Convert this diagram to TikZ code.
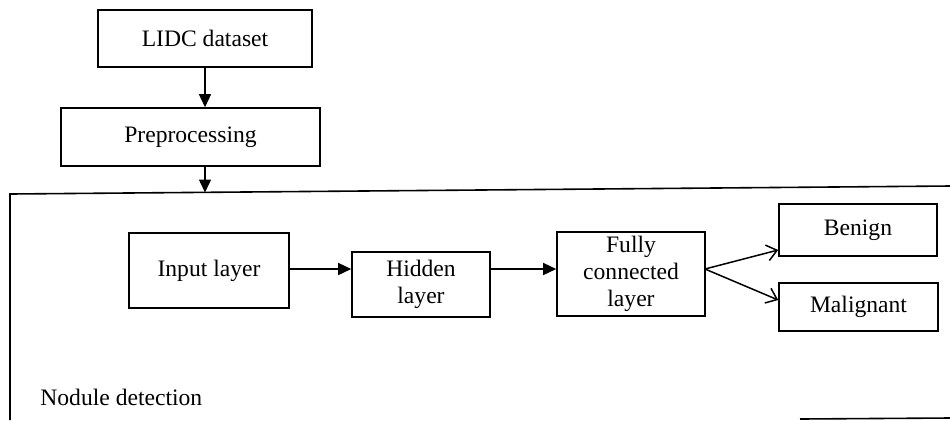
\documentclass[tikz,border=0pt]{standalone}
\usepackage{fontspec}
\setmainfont{Liberation Serif}
\usepackage{tikz}
\usetikzlibrary{arrows.meta}
\tikzstyle{box} = [draw, line width=0.8pt, inner sep=0pt, align=center]
\tikzstyle{arrow} = [line width=0.75pt, -{Triangle[length=6.5pt,width=6pt]}]
\tikzstyle{open} = [line width=0.75pt, -{Straight Barb[length=5pt,width=8pt]}]

\begin{document}
\begin{tikzpicture}[x=0.5pt, y=-0.5pt, font=\fontsize{11.8}{13.5}\selectfont]
	\useasboundingbox (0,0) rectangle (950,420);
	% outer frame (cut off by the page)
	\draw[line width=0.8pt] (950,186) -- (10,194) -- (10,420);
	\draw[line width=0.8pt] (800,419) -- (950,418);
	\coordinate(top) at (205,192.5);
	\coordinate(split) at (705,269);

	\node[box, minimum width=107pt, minimum height=28.5pt](lidc) at (205, 38.5){LIDC dataset};
	\node[box, minimum width=129.5pt, minimum height=29pt](prep) at (190.5, 137){Preprocessing};
	\node[box, minimum width=80pt, minimum height=37.5pt](inp) at (209, 270.5){Input layer};
	\node[box, minimum width=69pt, minimum height=32.5pt](hid) at (421, 284.5){Hidden\\layer};
	\node[box, minimum width=74pt, minimum height=42pt](fc) at (631, 274){Fully\\connected\\layer};
	\node[box, minimum width=79pt, minimum height=26pt](ben) at (858, 230){Benign};
	\node[box, minimum width=79.5pt, minimum height=24pt](mal) at (858.5, 307){Malignant};
	\node[anchor=west, inner sep=0pt](det) at (40, 397){Nodule detection};

	\draw[arrow](lidc) -- (lidc.south |- prep.north);
	\draw[arrow](prep.south -| lidc.south) -- (top);
	\draw[arrow](inp.east |- split) -- (hid.west |- split);
	\draw[arrow](hid.east |- split) -- (fc.west |- split);
	\draw[open](split) -- (ben.west |- 0,250);
	\draw[open](split) -- (mal.west |- 0,300);
\end{tikzpicture}
\end{document}
